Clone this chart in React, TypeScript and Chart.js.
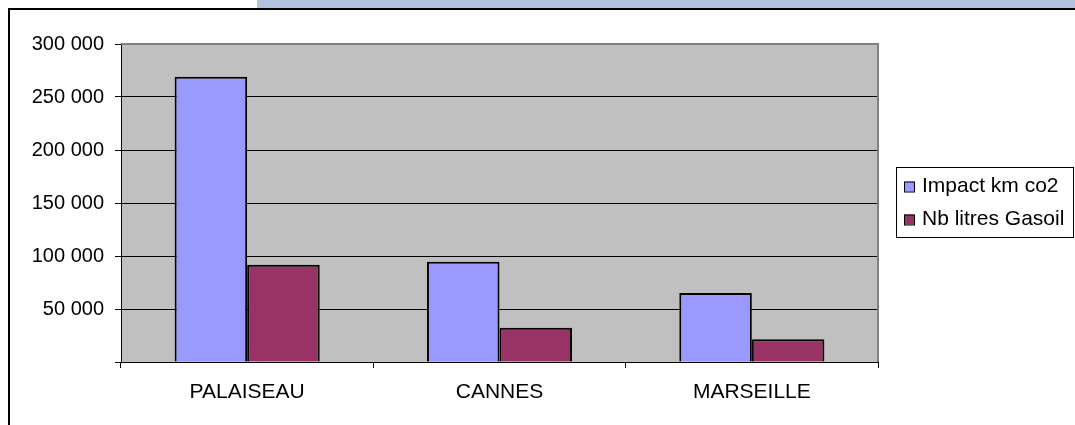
import React, { useEffect, useRef } from "react";
import { Chart, registerables } from "chart.js";

Chart.register(...registerables);

const categories = ["PALAISEAU", "CANNES", "MARSEILLE"];
const impactKmCo2 = [269000, 94500, 65000];
const nbLitresGasoil = [91800, 32400, 21400];
const seriesNames = ["Impact km co2", "Nb litres Gasoil"];
const seriesColors = ["#9999ff", "#993366"];
const yTickMax = 300000;
const yTickStep = 50000;

const FONT = "'Liberation Sans', Arial, sans-serif";

function formatThousands(v: number): string {
  if (v === 0) return "";
  return String(Math.round(v)).replace(/\B(?=(\d{3})+(?!\d))/g, " ");
}

const decorPlugin = {
  id: "decor",
  beforeDraw(chart: any) {
    const { ctx, chartArea } = chart;
    ctx.save();
    ctx.fillStyle = "#ffffff";
    ctx.fillRect(0, 0, chart.width, chart.height);
    // light blue band at top
    ctx.fillStyle = "#b0c2dc";
    ctx.fillRect(257, 0, chart.width - 257, 8);
    // frame
    ctx.strokeStyle = "#000000";
    ctx.lineWidth = 2;
    ctx.beginPath();
    ctx.moveTo(chart.width, 9);
    ctx.lineTo(9, 9);
    ctx.lineTo(9, chart.height);
    ctx.stroke();
    // plot background
    ctx.fillStyle = "#c0c0c0";
    ctx.fillRect(chartArea.left, chartArea.top, chartArea.right - chartArea.left, chartArea.bottom - chartArea.top);
    ctx.restore();
  },
  afterDraw(chart: any) {
    const { ctx, chartArea } = chart;
    ctx.save();
    // right & top plot border
    ctx.strokeStyle = "#808080";
    ctx.lineWidth = 2;
    ctx.beginPath();
    ctx.moveTo(chartArea.left, chartArea.top);
    ctx.lineTo(chartArea.right, chartArea.top);
    ctx.lineTo(chartArea.right, chartArea.bottom);
    ctx.stroke();
    // legend
    const bx = 896, by = 167, bw = 177, bh = 70;
    ctx.fillStyle = "#ffffff";
    ctx.fillRect(bx, by, bw, bh);
    ctx.strokeStyle = "#000000";
    ctx.lineWidth = 1;
    ctx.strokeRect(bx + 0.5, by + 0.5, bw, bh);
    ctx.font = `21px ${FONT}`;
    ctx.textBaseline = "alphabetic";
    ctx.textAlign = "left";
    chart.data.datasets.forEach((ds: any, i: number) => {
      const baseline = 192 + i * 33;
      ctx.fillStyle = ds.backgroundColor;
      ctx.fillRect(904, baseline - 10.5, 10, 10);
      ctx.strokeStyle = "#000000";
      ctx.lineWidth = 1;
      ctx.strokeRect(904.5, baseline - 10, 10, 10);
      ctx.fillStyle = "#000000";
      ctx.fillText(ds.label, 922, baseline);
    });
    ctx.restore();
  },
};

export default function App() {
  const canvasRef = useRef<HTMLCanvasElement | null>(null);

  useEffect(() => {
    if (!canvasRef.current) return;
    const chart = new Chart(canvasRef.current, {
      type: "bar",
      data: {
        labels: categories,
        datasets: [
          {
            label: seriesNames[0],
            data: impactKmCo2,
            backgroundColor: seriesColors[0],
            borderColor: "#000000",
            borderWidth: 2,
          },
          {
            label: seriesNames[1],
            data: nbLitresGasoil,
            backgroundColor: seriesColors[1],
            borderColor: "#000000",
            borderWidth: 2,
          },
        ],
      },
      options: {
        responsive: false,
        animation: false,
        devicePixelRatio: 1,
        layout: { padding: { left: 0, top: 44, right: 197, bottom: 0 } },
        datasets: { bar: { categoryPercentage: 0.575, barPercentage: 1 } },
        plugins: {
          legend: { display: false },
          tooltip: { enabled: false },
        },
        scales: {
          x: {
            offset: true,
            grid: {
              display: true,
              offset: true,
              drawOnChartArea: false,
              drawTicks: true,
              tickLength: 6,
              color: "#000000",
            },
            border: { display: true, color: "#000000", width: 1 },
            ticks: {
              color: "#000000",
              font: { family: FONT, size: 21 },
              padding: 12,
              maxRotation: 0,
            },
            afterFit(scale: any) {
              scale.height = 63;
            },
          },
          y: {
            min: 0,
            max: yTickMax,
            grid: {
              color: "#000000",
              drawTicks: true,
              tickLength: 6,
            },
            border: { display: true, color: "#000000", width: 1 },
            ticks: {
              stepSize: yTickStep,
              color: "#000000",
              font: { family: FONT, size: 20 },
              padding: 11,
              callback: (v: any) => formatThousands(Number(v)),
            },
            afterFit(scale: any) {
              scale.width = 121;
            },
          },
        },
      },
      plugins: [decorPlugin],
    });
    return () => chart.destroy();
  }, []);

  return (
    <div style={{ position: "absolute", left: 0, top: 0, width: 1075, height: 425 }}>
      <canvas ref={canvasRef} width={1075} height={425} style={{ display: "block", width: 1075, height: 425 }} />
    </div>
  );
}
